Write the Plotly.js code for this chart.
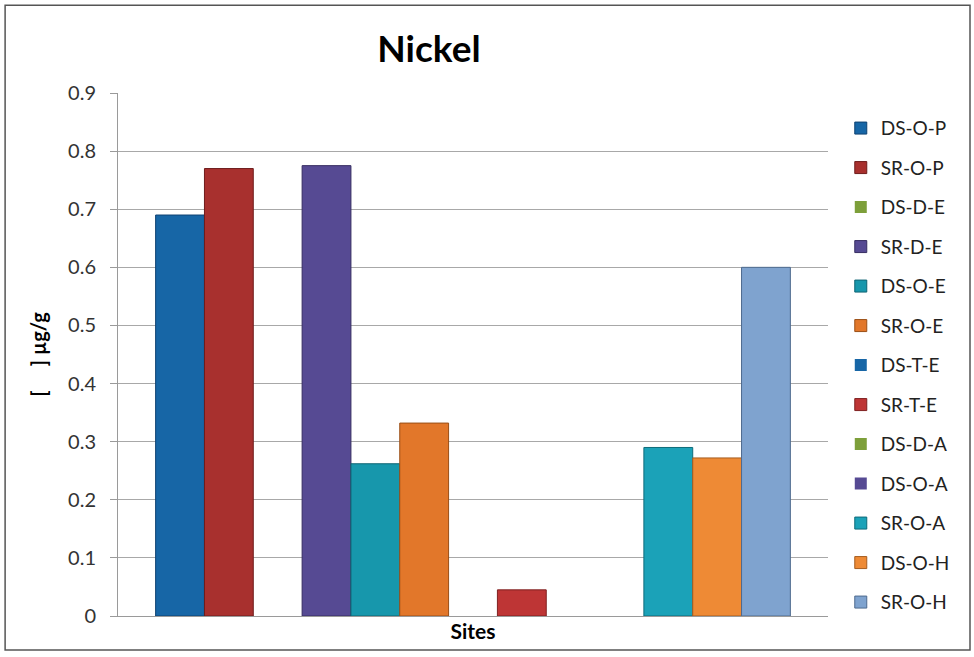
<!DOCTYPE html>
<html><head><meta charset="utf-8">
<script src="https://cdn.plot.ly/plotly-3.0.1.min.js"></script>
<style>html,body{margin:0;padding:0;background:#fff;}#chart{width:974px;height:657px;}</style>
</head><body><div id="chart"></div>
<script>
const seriesNames = ['DS-O-P','SR-O-P','DS-D-E','SR-D-E','DS-O-E','SR-O-E','DS-T-E','SR-T-E','DS-D-A','DS-O-A','SR-O-A','DS-O-H','SR-O-H'];
const seriesValues = [0.69, 0.77, 0, 0.775, 0.262, 0.332, 0, 0.045, 0, 0, 0.29, 0.272, 0.6];
const seriesColors = ['#1766A6','#A8302E','#7D9F3A','#564A93','#1797AC','#E2772A','#1766A6','#BE3535','#7D9F3A','#564A93','#1BA2B8','#EE8A35','#7FA3CF'];
const lineColors = ['#0E4272','#6E1C1C','#506A22','#362D62','#0E6473','#9A4E16','#0E4272','#7E2020','#506A22','#362D62','#0E6B7A','#A65C1E','#4E6A8E'];
const category = ['Sites'];

const traces = seriesNames.map((n, i) => ({
  type: 'bar', name: n, x: category, y: [seriesValues[i]],
  legendgroup: 'g' + i,
  marker: {color: seriesColors[i], line: {color: lineColors[i], width: seriesValues[i] > 0 ? 1 : 0}},
  hoverinfo: 'name+y'
}));

const FONT = 'Lato, Noto Sans, sans-serif';
const layout = {
  width: 974, height: 657,
  margin: {l: 118, r: 146, t: 93, b: 41},
  paper_bgcolor: '#fff', plot_bgcolor: '#fff',
  barmode: 'group', bargap: 0.106, bargroupgap: 0,
  font: {family: FONT, color: '#222', size: 17},
  title: {text: '<b>Nickel</b>', font: {size: 37, color: '#000', family: FONT},
          x: 0.438, xref: 'paper', xanchor: 'center', y: 0.925, yref: 'container', yanchor: 'middle'},
  xaxis: {type: 'category', showticklabels: false, showline: true, linecolor: '#9A9A9A', linewidth: 1,
          ticks: '', showgrid: false, zeroline: false,
          title: {text: '<b>Sites</b>', font: {size: 21, color: '#000', family: FONT}, standoff: 8}},
  yaxis: {range: [0, 0.9], showline: true, linecolor: '#9A9A9A', linewidth: 1,
          ticks: 'outside', ticklen: 7, tickcolor: '#9A9A9A', showgrid: true, gridcolor: '#A8A8A8', gridwidth: 1,
          zeroline: false, tickfont: {size: 20, color: '#333', family: FONT}, ticklabelstandoff: 10,
          tickvals: [0, 0.1, 0.2, 0.3, 0.4, 0.5, 0.6, 0.7, 0.8, 0.9],
          ticktext: ['0', '0.1', '0.2', '0.3', '0.4', '0.5', '0.6', '0.7', '0.8', '0.9'],
          title: {text: '<b>[&nbsp;&nbsp;&nbsp;&nbsp;&nbsp;] µg/g</b>', font: {size: 20, color: '#000', family: FONT}, standoff: 16}},
  legend: {x: 1.018, xanchor: 'left', y: 0.969, yanchor: 'top', tracegroupgap: 11.8,
           font: {size: 19, color: '#222', family: FONT}, itemwidth: 30, traceorder: 'grouped', bgcolor: 'rgba(0,0,0,0)'},
  showlegend: true,
  shapes: [{type: 'rect', xref: 'paper', yref: 'paper', x0: -0.159, x1: 1.2, y0: -0.065, y1: 1.168,
            line: {color: '#555', width: 1.5}, fillcolor: 'rgba(0,0,0,0)', layer: 'below'}]
};

Plotly.newPlot('chart', traces, layout, {displayModeBar: false, staticPlot: true});
</script></body></html>
